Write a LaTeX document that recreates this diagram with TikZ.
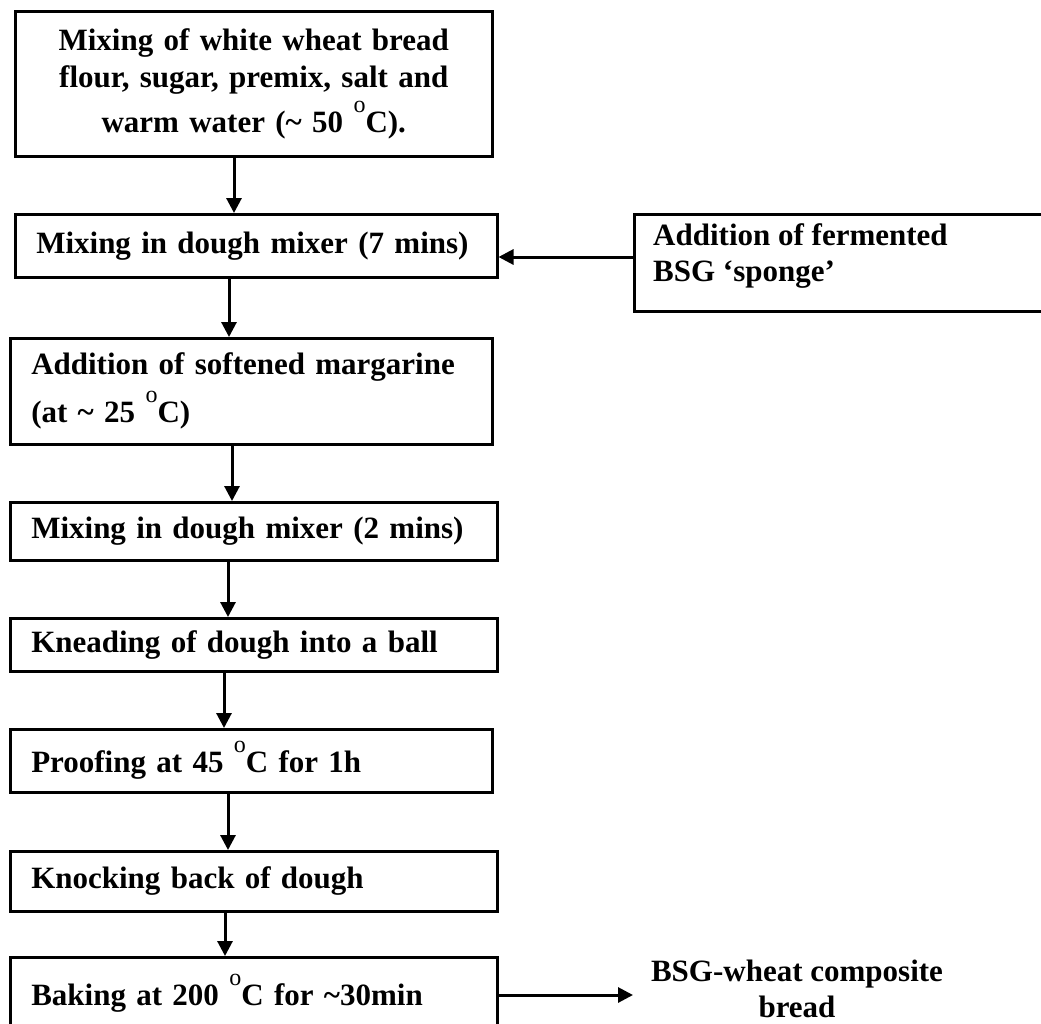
\documentclass[tikz,border=0pt]{standalone}
\usepackage{fontspec}
\setmainfont{Liberation Serif}
\usetikzlibrary{arrows.meta, positioning}

\tikzset{
	stepbox/.style={draw, line width=2.5pt, anchor=north west, inner xsep=21pt, inner ysep=0pt, align=left, font=\fontsize{31}{37}\selectfont\bfseries},
	flow/.style={line width=3pt, -{Triangle[length=15pt,width=15pt]}},
	plain/.style={inner sep=0pt, font=\fontsize{31}{36}\selectfont\bfseries}
}
\newcommand{\degc}{\raisebox{20pt}{\mdseries\fontsize{24}{24}\selectfont o}C}

\begin{document}
\begin{tikzpicture}[x=1pt, y=-1pt] % 1 px = 1 pt, y 向下
	\clip (0,0) rectangle (1041,1023);
	
	% 左侧流程框
	\node[stepbox, align=center, minimum width=477pt, minimum height=145pt, text width=435pt] (mixa) at (14,10)
		{Mixing of white wheat bread\\ flour, sugar, premix, salt and\\[6pt] warm water (\textasciitilde\ 50 \degc).};
	\node[stepbox, minimum width=482pt, minimum height=63pt, text width=440pt] (mixb) at (14,213) {Mixing in dough mixer (7 mins)};
	\node[stepbox, minimum width=482pt, minimum height=106pt, text width=440pt] (marg) at (9,337) {Addition of softened margarine\\[9pt] (at \textasciitilde\ 25 \degc)};
	\node[stepbox, minimum width=487pt, minimum height=58pt, text width=445pt] (mixc) at (9,501) {Mixing in dough mixer (2 mins)};
	\node[stepbox, minimum width=487pt, minimum height=53pt, text width=445pt] (knead) at (9,617) {Kneading of dough into a ball};
	\node[stepbox, minimum width=482pt, minimum height=63pt, text width=440pt] (proof) at (9,728) {Proofing at 45 \degc\ for 1h};
	\node[stepbox, minimum width=487pt, minimum height=60pt, text width=445pt] (knock) at (9,850) {Knocking back of dough};
	\node[stepbox, minimum width=487pt, minimum height=72pt, text width=445pt] (bake) at (9,956) {Baking at 200 \degc\ for \textasciitilde30min};
	
	% 右侧框与产品
	\node[stepbox, minimum width=420pt, minimum height=97pt, text width=378pt] (sponge) at (633,213) {};
	\node[plain, anchor=north west, align=left] (spongetxt) at (653,223) {Addition of fermented\\ BSG `sponge'};
	\node[plain, anchor=north, align=center] (bread) at (797,960) {BSG-wheat composite\\ bread};
	\coordinate (outend) at (633,995);
	
	% 箭头
	\draw[flow] (mixa.south -| 234,0) -- (mixb.north -| 234,0);
	\draw[flow] (mixb.south -| 229,0) -- (marg.north -| 229,0);
	\draw[flow] (marg.south -| 232,0) -- (mixc.north -| 232,0);
	\draw[flow] (mixc.south -| 228,0) -- (knead.north -| 228,0);
	\draw[flow] (knead.south -| 224,0) -- (proof.north -| 224,0);
	\draw[flow] (proof.south -| 228,0) -- (knock.north -| 228,0);
	\draw[flow] (knock.south -| 225,0) -- (bake.north -| 225,0);
	\draw[flow] (sponge.west |- 0,257) -- (mixb.east |- 0,257);
	\draw[flow] (bake.east |- outend) -- (outend);
\end{tikzpicture}
\end{document}
